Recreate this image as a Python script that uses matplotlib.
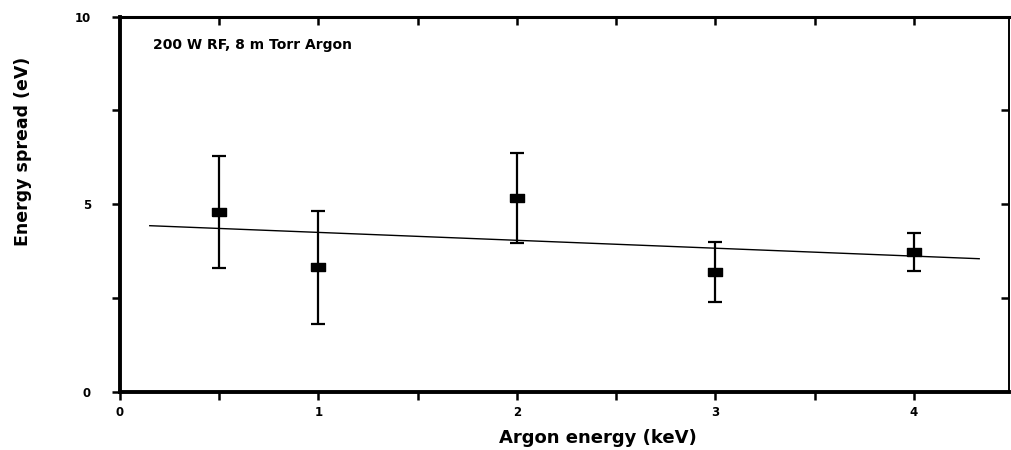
import numpy as np
import matplotlib.pyplot as plt

# measured energy spread vs argon ion energy
argon_kev = [0.5, 1.0, 2.0, 3.0, 4.0]
spread_ev = [4.8, 3.32, 5.17, 3.2, 3.73]
spread_err = [1.5, 1.5, 1.2, 0.8, 0.5]

# straight-line fit, end points
fit_x = [0.15, 4.33]
fit_y = [4.43, 3.55]

xticks = [0, 1, 2, 3, 4]
yticks = [0, 5, 10]

plt.rcParams['font.family'] = ['DejaVu Sans']
plt.rcParams['font.weight'] = 'bold'

fig = plt.figure(figsize=(10.11, 4.5), dpi=100)
ax = fig.add_axes([0.1187, 0.129, 0.8793, 0.834])

ax.plot(fit_x, fit_y, color='black', lw=1.0)
ax.errorbar(argon_kev, spread_ev, yerr=spread_err, fmt='none', ecolor='black',
            elinewidth=1.6, capsize=5, capthick=1.6)
box = [(-1, -0.65), (1, -0.65), (1, 0.65), (-1, 0.65), (-1, -0.65)]
ax.plot(argon_kev, spread_ev, ls='none', marker=box, ms=9.5, color='black')

ax.set_xlim(0, 4.48)
ax.set_ylim(0, 10)
ax.set_xticks(xticks)
ax.set_xticks([0.5, 1.5, 2.5, 3.5], minor=True)
ax.set_yticks(yticks)
ax.set_yticks([2.5, 7.5], minor=True)
ax.tick_params(which='both', direction='out', length=6, width=1.8,
               labelsize=8.5, colors='black')
ax.tick_params(axis='y', pad=15)
ax.tick_params(axis='x', pad=4)

ax.spines['top'].set_visible(False)
ax.spines['right'].set_visible(False)
ax.spines['left'].set_linewidth(2.8)
ax.spines['bottom'].set_linewidth(2.8)

# inward ticks on the top and right frame
top = ax.secondary_xaxis('top')
top.set_xticks(np.arange(0.5, 4.5, 0.5))
top.tick_params(direction='in', length=6, width=1.8, labeltop=False)
top.spines['top'].set_linewidth(2.2)

right = ax.secondary_yaxis('right')
right.set_yticks([2.5, 5, 7.5])
right.tick_params(direction='in', length=6, width=1.8, labelright=False)
right.spines['right'].set_linewidth(1.4)

ax.text(0.037, 0.925, '200 W RF, 8 m Torr Argon', transform=ax.transAxes,
        fontsize=10, fontweight='bold', va='center', ha='left')

fig.text(598 / 1011, 1 - 438 / 450, 'Argon energy (keV)', fontsize=13,
         fontweight='bold', ha='center', va='center')
fig.text(23 / 1011, 1 - 151 / 450, 'Energy spread (eV)', fontsize=12.5,
         fontweight='bold', ha='center', va='center', rotation=90)

fig.savefig('out.png', dpi=100)
